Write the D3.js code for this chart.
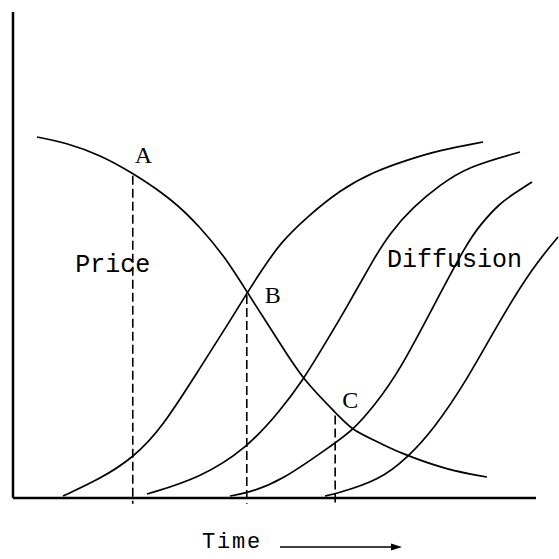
<!DOCTYPE html>
<html>
<head>
<meta charset="utf-8">
<script src="https://cdn.jsdelivr.net/npm/d3@7"></script>
<style>
  html, body { margin: 0; padding: 0; background: #fff; }
  #chart { width: 559px; height: 559px; }
</style>
</head>
<body>
<div id="chart"></div>
<script>
// Price curve (falls over time), x = time, y = level (0-100)
const priceCurve = [
  [4.59, 74.28], [10.33, 73.05], [16.63, 70.58], [22.94, 66.87], [30.59, 61.32],
  [35.76, 55.76], [40.54, 49.59], [44.74, 42.39], [51.05, 31.89], [55.45, 24.28],
  [62.52, 16.67], [64.82, 13.99], [70.17, 11.32], [74.0, 9.26], [82.98, 5.76], [90.63, 4.32]
]

// Four diffusion curves, each one starting later
const diffusionCurves = [
  [[9.56, 0.41], [16.63, 3.91], [22.94, 8.23], [28.49, 14.4], [35.76, 26.75],
    [41.49, 36.42], [44.74, 42.18], [47.23, 46.3], [51.05, 52.47], [56.21, 57.82],
    [62.52, 63.37], [68.83, 67.08], [75.33, 69.55], [81.64, 71.6], [89.87, 73.25]],
  [[25.62, 0.82], [35.76, 4.12], [44.74, 10.29], [51.05, 17.9], [55.45, 24.28],
    [59.27, 31.07], [63.86, 39.3], [68.83, 48.97], [72.08, 54.53], [76.48, 59.88],
    [81.64, 64.4], [86.81, 68.11], [96.94, 71.19]],
  [[41.49, 0.41], [44.74, 1.03], [51.05, 3.29], [61.57, 11.32], [64.82, 13.79],
    [69.22, 19.14], [74.0, 26.34], [80.31, 39.3], [86.81, 52.47], [89.29, 56.17],
    [93.12, 60.7], [95.98, 62.76], [99.24, 65.02]],
  [[59.66, 0.41], [61.57, 0.82], [70.17, 3.7], [75.53, 8.44], [80.31, 13.99],
    [86.81, 24.28], [93.12, 36.63], [99.43, 47.53], [104.21, 53.7]]
]

// Marked points on the price curve with their dropped lines
const markers = [
  { label: 'A', x: 22.9, y: 66.9, dx: 2, dy: -10 },
  { label: 'B', x: 44.7, y: 42.4, dx: 18, dy: 11 },
  { label: 'C', x: 61.6, y: 17.6, dx: 7, dy: -4 }
]

// Curve labels
const curveLabels = [
  { text: 'Price', x: 11.9, y: 46.5 },
  { text: 'Diffusion', x: 71.5, y: 47.5 }
]
const xLabel = 'Time'

const margin = { top: 12, right: 23, bottom: 61, left: 13 }
const width = 559 - margin.left - margin.right
const height = 559 - margin.top - margin.bottom

const svg = d3.select('#chart').append('svg')
  .attr('width', 559)
  .attr('height', 559)

const g = svg.append('g')
  .attr('transform', `translate(${margin.left}, ${margin.top})`)

const xScale = d3.scaleLinear().domain([0, 100]).range([0, width])
const yScale = d3.scaleLinear().domain([0, 100]).range([height, 0])

const line = d3.line()
  .x(d => xScale(d[0]))
  .y(d => yScale(d[1]))
  .curve(d3.curveBasis)

// Axes: plain lines, no ticks
g.append('line')
  .attr('x1', 0).attr('x2', 0)
  .attr('y1', 0).attr('y2', height)
  .attr('stroke', '#000').attr('stroke-width', 2.5)
g.append('line')
  .attr('x1', 0).attr('x2', width)
  .attr('y1', height).attr('y2', height)
  .attr('stroke', '#000').attr('stroke-width', 2.5)

// Dashed drop lines
g.selectAll('.drop')
  .data(markers)
  .join('line')
  .attr('class', 'drop')
  .attr('x1', d => xScale(d.x)).attr('x2', d => xScale(d.x))
  .attr('y1', d => yScale(d.y) + 3).attr('y2', yScale(-1.2))
  .attr('stroke', '#000')
  .attr('stroke-width', 1.6)
  .attr('stroke-dasharray', '9,4')

// Price curve
g.append('path')
  .attr('d', line(priceCurve))
  .attr('fill', 'none')
  .attr('stroke', '#000')
  .attr('stroke-width', 1.7)

// Diffusion curves
g.selectAll('.diffusion')
  .data(diffusionCurves)
  .join('path')
  .attr('class', 'diffusion')
  .attr('d', d => line(d))
  .attr('fill', 'none')
  .attr('stroke', '#000')
  .attr('stroke-width', 1.7)

// Point letters
g.selectAll('.marker-label')
  .data(markers)
  .join('text')
  .attr('class', 'marker-label')
  .attr('x', d => xScale(d.x) + d.dx)
  .attr('y', d => yScale(d.y) + d.dy)
  .attr('font-family', 'Liberation Serif, serif')
  .attr('font-size', 24)
  .attr('fill', '#000')
  .text(d => d.label)

// Curve names, typewriter style
g.selectAll('.curve-label')
  .data(curveLabels)
  .join('text')
  .attr('class', 'curve-label')
  .attr('x', d => xScale(d.x))
  .attr('y', d => yScale(d.y))
  .attr('font-family', 'Liberation Mono, monospace')
  .attr('font-size', 25)
  .attr('fill', '#000')
  .text(d => d.text)

// Time label with arrow
const xl = svg.append('g')
  .attr('transform', `translate(${margin.left}, ${margin.top + height})`)
xl.append('text')
  .attr('x', 189)
  .attr('y', 50)
  .attr('font-family', 'Liberation Mono, monospace')
  .attr('font-size', 22)
  .attr('letter-spacing', 1.8)
  .attr('fill', '#000')
  .text(xLabel)
xl.append('line')
  .attr('x1', 267).attr('x2', 380)
  .attr('y1', 49).attr('y2', 49)
  .attr('stroke', '#000').attr('stroke-width', 1.4)
xl.append('path')
  .attr('d', d3.line()([[378, 45.5], [389, 49], [378, 52.5]]) + 'Z')
  .attr('fill', '#000')
</script>
</body>
</html>
